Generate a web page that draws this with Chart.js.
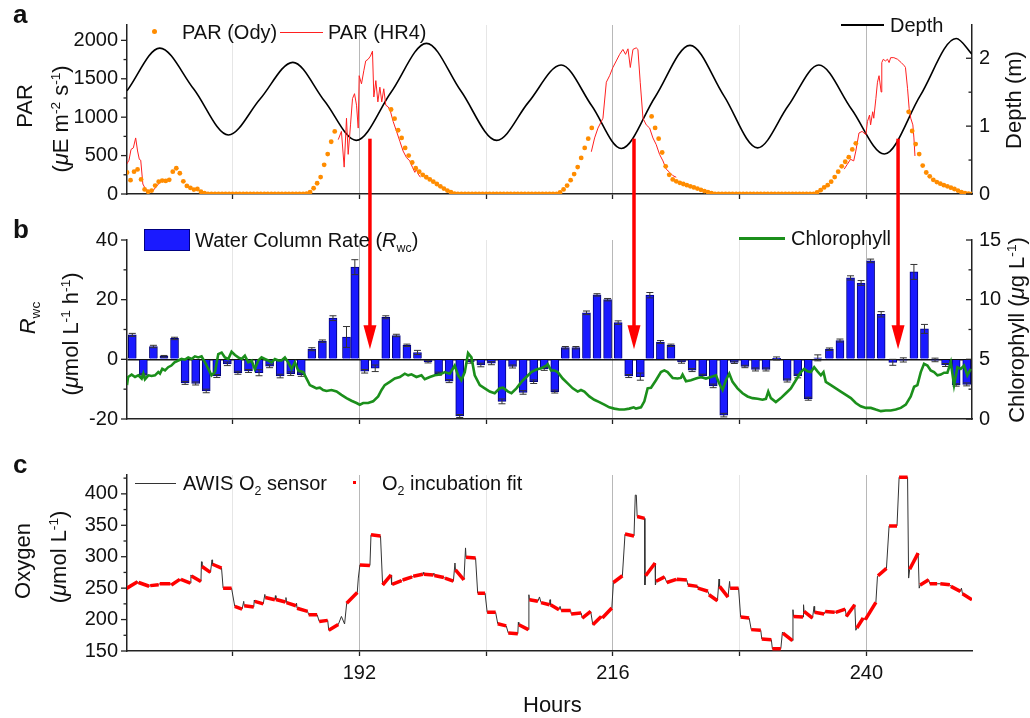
<!DOCTYPE html>
<html>
<head>
<meta charset="utf-8">
<script src="https://cdn.jsdelivr.net/npm/chart.js@4.4.1/dist/chart.umd.min.js"></script>
<style>
  body { margin: 0; background: #fff; }
  #wrap { position: relative; width: 1030px; height: 718px; font-family: "Liberation Sans", Arial, sans-serif; color: #111; overflow: hidden; }
  canvas { position: absolute; left: 0; }
  .t { position: absolute; white-space: nowrap; font-size: 20px; line-height: 1; transform: translateY(-50%); }
  .rot { position: absolute; white-space: nowrap; font-size: 22px; line-height: 1; transform: translate(-50%, -50%) rotate(-90deg); }
  .lab { position: absolute; font-weight: bold; font-size: 26px; line-height: 1; }
  sup, sub { font-size: 62%; line-height: 0; }
  .sw { position: absolute; }
</style>
</head>
<body>
<div id="wrap">
  <canvas id="cA" width="1030" height="215" style="top:0"></canvas>
  <canvas id="cB" width="1030" height="225" style="top:215px"></canvas>
  <canvas id="cC" width="1030" height="278" style="top:440px"></canvas>
  <canvas id="ov" width="1030" height="718" style="top:0"></canvas>

  <div class="lab" style="left:13px;top:1px">a</div>
  <div class="lab" style="left:13px;top:216px">b</div>
  <div class="lab" style="left:13px;top:451px">c</div>

  <div class="rot" style="left:25px;top:106px">PAR</div>
  <div class="rot" style="left:61px;top:119px">(<i>μ</i>E m<sup>-2</sup> s<sup>-1</sup>)</div>
  <div class="rot" style="left:1014px;top:100px">Depth (m)</div>
  <div class="rot" style="left:28px;top:318px"><i>R</i><sub>wc</sub></div>
  <div class="rot" style="left:71px;top:334px">(<i>μ</i>mol L<sup>-1</sup> h<sup>-1</sup>)</div>
  <div class="rot" style="left:1017px;top:330px">Chlorophyll (<i>μ</i>g L<sup>-1</sup>)</div>
  <div class="rot" style="left:23px;top:561px">Oxygen</div>
  <div class="rot" style="left:59px;top:557px">(<i>μ</i>mol L<sup>-1</sup>)</div>
  <div class="t" style="left:523px;top:705px;font-size:22px">Hours</div>

  <!-- legends -->
  <div class="sw" style="left:152px;top:29px;width:5px;height:5px;border-radius:50%;background:#ff8c00"></div>
  <div class="t" style="left:182px;top:32px">PAR (Ody)</div>
  <div class="sw" style="left:280px;top:32px;width:43px;height:1px;background:#ff2020"></div>
  <div class="t" style="left:328px;top:32px">PAR (HR4)</div>
  <div class="sw" style="left:841px;top:24px;width:43px;height:1.5px;background:#000"></div>
  <div class="t" style="left:890px;top:25px">Depth</div>

  <div class="sw" style="left:144px;top:229px;width:44px;height:20px;background:#1a1aff;border:1px solid #000080"></div>
  <div class="t" style="left:195px;top:240px">Water Column Rate (<i>R</i><sub>wc</sub>)</div>
  <div class="sw" style="left:739px;top:237px;width:46px;height:3px;background:#1b8f1b"></div>
  <div class="t" style="left:791px;top:238px">Chlorophyll</div>

  <div class="sw" style="left:135px;top:483px;width:41px;height:1px;background:#333"></div>
  <div class="t" style="left:183px;top:483px">AWIS O<sub>2</sub> sensor</div>
  <div class="sw" style="left:353px;top:481px;width:3px;height:3px;background:#ff0000"></div>
  <div class="t" style="left:382px;top:483px">O<sub>2</sub> incubation fit</div>
</div>

<script>
// ---- shared x axis (hours) ----
const xMin = 170, xMax = 250;
const xTickHours = [180, 192, 204, 216, 228, 240];
const xLabelHours = [192, 216, 240];
const xMajorLines = [192, 216, 240];

// ---- axis ticks ----
const parMajor = [0, 500, 1000, 1500, 2000], parMinor = [250, 750, 1250, 1750];
const depthMajor = [0, 1, 2], depthMinor = [0.5, 1.5];
const rwcMajor = [-20, 0, 20, 40], rwcMinor = [-10, 10, 30];
const chlMajor = [0, 5, 10, 15], chlMinor = [2.5, 7.5, 12.5];
const o2Major = [150, 200, 250, 300, 350, 400], o2Minor = [175, 225, 275, 325, 375, 425];

// ---- panel a: PAR (Ody), one reading every 20 min from hour 170 ----
const odyStart = 170, odyStep = 1 / 3;
const parOdy = [
  280, 180, 290, 320, 190, 60, 30, 45, 110, 160, 175, 170, 185, 290, 335, 270, 165, 105, 80, 58, 65, 30, 10,
  0, 0, 0, 0, 0, 0, 0, 0, 0, 0, 0, 0, 0, 0, 0, 0, 0, 0, 0, 0, 0, 0, 0, 0, 0, 0, 0, 0,
  5, 25, 75, 140, 220, 380, 520, 680, 815,
  null, null, null, null, null, null, null, null, null, null, null, null, null, null, null,
  1100, 980, 830, 730, 600, 500, 410, 335, 290, 250, 218, 190, 160, 130, 100, 70, 45, 25, 5,
  0, 0, 0, 0, 0, 0, 0, 0, 0, 0, 0, 0, 0, 0, 0, 0, 0, 0, 0, 0, 0, 0, 0, 0, 0, 0, 0, 0, 0,
  20, 60, 110, 180, 260, 350, 470, 600, 720, 860,
  null, null, null, null, null, null, null, null, null, null, null, null, null, null, null, null,
  1010, 860, 720, 540, 360, 250, 190, 165, 145, 130, 115, 100, 85, 70, 55, 38, 25, 10,
  0, 0, 0, 0, 0, 0, 0, 0, 0, 0, 0, 0, 0, 0, 0, 0, 0, 0, 0, 0, 0, 0, 0, 0, 0, 0, 0, 0, 0,
  20, 50, 85, 115, 160, 220, 290, 360, 420, 480, 580, 660,
  null, null, null, null, null, null, null, null, null, null, null, null, null, null,
  1070, 820, 650, 520, 370, 280, 230, 185, 155, 135, 115, 100, 82, 65, 45, 25, 12, 4, 0
];

// PAR (HR4) [hour, value]; [h, null] breaks the line
const hr4 = [
  [169.97, 388], [170.19, 440], [170.38, 580], [170.6, 600], [170.82, 730], [171.0, 560], [171.17, 450], [171.3, 440],
  [171.5, 130], [171.75, 65], [172.08, 38], [172.5, 50], [172.8, 100], [173.1, 150], [173.4, 175], [173.75, 180], [174.06, 200],
  [180, null],
  [190.0, 708], [190.3, 815], [190.56, 350], [190.78, 986], [190.94, 516], [191.16, 900], [191.35, 1242], [191.54, 1306],
  [191.73, 1156], [191.89, 858], [191.98, 1540], [192.2, 1434], [192.42, 1604], [192.6, 1732], [192.83, 1754], [193.05, 1796],
  [193.24, 1860], [193.37, 1263], [193.56, 1476], [193.75, 1199], [193.94, 1391], [194.12, 1199], [194.31, 1370], [194.5, 1156],
  [194.72, 1135], [194.95, 1071], [195.2, 943], [195.52, 815], [195.83, 687], [196.14, 559], [196.46, 474], [196.77, 431],
  [197.03, 346], [197.25, 282], [197.4, 324], [197.56, 260], [197.78, 218],
  [205, null],
  [213.96, 550], [214.27, 730], [214.59, 858], [215.06, 986], [215.38, 1455], [215.69, 1540], [216.0, 1647], [216.32, 1732],
  [216.64, 1818], [216.95, 1882], [217.2, 1818], [217.43, 1890], [217.65, 1647], [217.9, 1882], [218.21, 1903], [218.37, 1882],
  [218.59, 1455], [218.85, 986], [219.16, 900], [219.48, 858], [219.79, 730], [220.1, 644], [220.42, 516], [220.74, 431],
  [221.05, 324], [221.37, 282], [221.68, 239], [222.0, 218],
  [230, null],
  [237.9, 324], [238.2, 388], [238.5, 452], [238.8, 431], [239.0, 559], [239.3, 794], [239.6, 815], [239.95, 772],
  [240.1, 943], [240.3, 1028], [240.4, 900], [240.6, 1071], [240.7, 986], [240.9, 1242], [241.05, 1455], [241.2, 1540],
  [241.4, 1327], [241.46, 1711], [241.6, 1754], [241.8, 1732], [242.0, 1754], [242.15, 1711], [242.3, 1775], [242.6, 1775],
  [242.95, 1754], [243.3, 1711], [243.6, 1668], [243.7, 1647], [243.9, 1370], [244.05, 1114], [244.2, 986], [244.4, 900],
  [244.5, 730], [244.6, 495]
];

// Depth [hour, m]
const depth = [
  [170.0, 1.52], [173.1, 2.15], [176.3, 1.55], [179.6, 0.87], [182.6, 1.40], [185.7, 1.94], [188.7, 1.37], [191.7, 0.79],
  [195.0, 1.50], [198.35, 2.22], [201.6, 1.52], [205.0, 0.79], [208.0, 1.35], [211.1, 1.90], [214.0, 1.30], [216.8, 0.67],
  [220.0, 1.43], [223.3, 2.19], [226.5, 1.45], [229.7, 0.68], [232.6, 1.30], [235.5, 1.90], [238.6, 1.25], [241.7, 0.59],
  [245.1, 1.45], [248.5, 2.29], [250.0, 2.06]
];

// ---- panel b: water column rate bars ----
const barHours = [
  170.5, 171.55, 172.5, 173.5, 174.5, 175.5, 176.5, 177.5, 178.5, 179.5,
  180.5, 181.5, 182.5, 183.5, 184.5, 185.5, 186.5, 187.5, 188.5, 189.5,
  190.78, 191.57,
  192.5, 193.5, 194.5, 195.5, 196.5, 197.5, 198.5, 199.5, 200.5, 201.5,
  202.5, 203.5, 204.5, 205.5, 206.5, 207.5, 208.5, 209.5, 210.5, 211.5,
  212.5, 213.5, 214.5, 215.5, 216.5, 217.5,
  218.6,
  219.5, 220.5, 221.5, 222.5, 223.5, 224.5, 225.5, 226.5, 227.5, 228.5, 229.5, 230.5, 231.5, 232.5, 233.5, 234.5,
  235.4,
  236.5, 237.5, 238.5, 239.5,
  240.4, 241.4,
  242.5, 243.5, 244.5, 245.5, 246.5, 247.5, 248.5, 249.5
];
const barValues = [
  8.2, -5.4, 4.3, 1.0, 7.0, -7.9, -8.1, -10.6, -5.6, -1.5,
  -4.5, -3.9, -4.5, -2.3, -5.6, -4.8, -5.1, 3.4, 6.1, 13.8,
  7.5, 30.9,
  -4.0, -3.0, 14.1, 8.0, 4.7, 2.3, -0.8, -4.8, -7.3, -19.0,
  -0.8, -1.9, -1.3, -14.1, -2.4, -11.1, -7.5, -3.2, -10.8, 3.9,
  3.9, 15.6, 21.6, 20.0, 12.3, -5.6,
  -5.8,
  21.5, 5.8, 4.7, -0.9, -3.6, -5.6, -8.9, -18.7, -1.0, -2.4, -3.4, -3.4, 0.3, -7.1, -5.6, -13.2,
  0.5,
  3.4, 6.3, 27.3, 25.6,
  33.0, 15.1,
  -1.0, -0.2, 29.3, 10.2, -0.2, -1.9, -8.6, -8.4
];
const barErrors = [
  0.5, 0.5, 0.4, 0.3, 0.4, 0.5, 0.5, 0.6, 0.5, 0.6,
  0.5, 0.5, 1.0, 0.5, 0.6, 0.6, 0.6, 0.5, 0.4, 0.8,
  3.5, 2.5,
  0.6, 1.1, 0.5, 0.4, 0.4, 0.7, 0.4, 0.5, 0.5, 0.5,
  0.5, 0.6, 0.5, 0.8, 0.5, 0.6, 0.6, 0.5, 0.5, 0.4,
  0.4, 0.6, 0.4, 0.4, 0.6, 0.5,
  1.2,
  0.9, 0.5, 0.4, 0.4, 0.5, 0.6, 0.6, 0.6, 0.4, 0.4, 0.5, 0.5, 0.5, 0.5, 0.6, 0.5,
  1.0,
  0.4, 0.5, 0.7, 0.8,
  0.6, 0.9,
  1.0, 0.7, 2.5, 1.5, 0.6, 0.5, 0.4, 0.5
];

// Chlorophyll [hour, ug/L]
const chl = [
  [170.0, 2.84], [170.1, 3.52], [170.44, 3.72], [170.76, 3.52], [171.07, 3.66], [171.39, 3.39], [171.55, 3.8], [171.7, 3.33],
  [172.02, 3.66], [172.33, 3.6], [172.65, 3.66], [172.96, 3.93], [173.12, 3.8], [173.34, 4.2], [173.6, 4.07], [173.9, 4.34],
  [174.2, 4.48], [174.5, 4.75], [174.86, 4.9], [175.17, 5.03], [175.49, 4.97], [175.8, 5.16], [176.12, 5.03], [176.43, 5.25],
  [176.75, 5.16], [177.06, 5.25], [177.38, 4.75], [177.7, 4.2], [178.0, 3.66], [178.33, 3.93], [178.64, 5.44], [178.96, 5.57],
  [179.27, 5.16], [179.59, 5.03], [179.9, 5.63], [180.22, 5.36], [180.53, 5.16], [180.85, 5.03], [181.16, 5.3], [181.48, 4.75],
  [181.8, 4.9], [182.1, 4.2], [182.43, 4.9], [182.74, 5.16], [183.05, 5.03], [183.37, 4.9], [183.69, 4.75], [184.0, 5.03],
  [184.32, 4.9], [184.63, 4.9], [184.95, 5.16], [185.26, 4.75], [185.58, 4.2], [185.9, 4.75], [186.21, 4.07], [186.68, 3.93],
  [187.0, 3.39], [187.31, 2.84], [187.63, 2.7], [187.94, 2.57], [188.26, 2.62], [188.57, 2.43], [188.89, 2.35], [189.36, 2.43],
  [189.84, 2.3], [190.3, 2.02], [190.78, 1.75], [191.25, 1.53], [191.73, 1.34], [192.04, 1.2], [192.36, 1.34], [192.83, 1.34],
  [193.3, 1.48], [193.78, 1.89], [194.1, 2.43], [194.4, 2.84], [194.88, 3.11], [195.35, 3.39], [195.83, 3.52], [196.3, 3.8],
  [196.62, 3.66], [196.93, 3.74], [197.4, 3.52], [197.88, 3.66], [198.19, 3.33], [198.67, 3.52], [199.14, 3.66], [199.61, 3.72],
  [200.09, 3.93], [200.56, 3.8], [201.03, 4.48], [201.35, 3.66], [201.66, 3.25], [201.98, 3.93], [202.29, 5.52], [202.61, 5.16],
  [202.92, 3.66], [203.4, 2.84], [203.87, 2.57], [204.34, 2.3], [204.81, 2.16], [205.29, 2.57], [205.6, 2.62], [206.08, 2.3],
  [206.4, 2.16], [206.87, 2.57], [207.34, 3.11], [207.81, 3.52], [208.28, 3.93], [208.76, 4.15], [209.23, 4.26], [209.7, 4.48],
  [209.83, 4.6], [210.15, 4.07], [210.46, 4.07], [210.78, 3.93], [211.25, 3.39], [211.72, 2.98], [212.2, 2.57], [212.67, 2.3],
  [212.98, 2.43], [213.3, 2.3], [213.77, 1.89], [214.24, 1.61], [214.72, 1.42], [215.19, 1.2], [215.66, 0.98], [216.14, 0.87],
  [216.61, 0.79], [217.08, 0.79], [217.56, 0.87], [217.97, 0.98], [218.19, 0.87], [218.66, 0.98], [218.98, 1.48], [219.29, 2.57],
  [219.61, 2.62], [220.08, 3.25], [220.55, 3.93], [220.87, 4.07], [221.18, 3.93], [221.66, 3.44], [222.13, 3.39], [222.44, 3.44],
  [222.6, 3.72], [222.92, 3.17], [223.39, 3.25], [223.86, 3.39], [224.34, 3.52], [224.81, 3.39], [225.28, 3.52], [225.76, 3.66],
  [226.07, 2.98], [226.39, 2.43], [226.7, 3.25], [227.02, 3.8], [227.33, 3.11], [227.8, 2.57], [228.28, 2.16], [228.75, 1.89],
  [229.22, 1.75], [229.7, 1.69], [230.17, 1.61], [230.49, 1.69], [230.71, 2.3], [230.96, 1.75], [231.43, 1.42], [231.9, 1.75],
  [232.38, 2.16], [232.85, 2.57], [233.32, 3.25], [233.8, 3.93], [234.11, 4.2], [234.43, 3.99], [234.74, 3.93], [235.06, 4.34],
  [235.37, 3.99], [235.69, 3.66], [235.94, 3.93], [236.16, 3.11], [236.64, 2.84], [237.11, 2.57], [237.58, 2.3], [238.06, 2.02],
  [238.53, 1.75], [239.0, 1.34], [239.47, 1.07], [239.95, 0.93], [240.42, 0.93], [240.89, 0.79], [241.37, 0.66], [241.84, 0.71],
  [242.31, 0.71], [242.78, 0.79], [243.26, 0.93], [243.73, 1.2], [244.2, 1.89], [244.52, 2.7], [244.83, 2.84], [245.15, 3.93],
  [245.46, 4.62], [245.78, 4.48], [246.09, 4.07], [246.41, 3.93], [246.73, 3.66], [247.04, 3.72], [247.36, 3.88], [247.67, 3.88],
  [247.99, 4.75], [248.3, 2.84], [248.62, 4.34], [248.93, 4.2], [249.25, 4.48], [249.56, 3.66], [249.88, 4.2]
];

// ---- panel c: oxygen ----
// incubation fits: [startHour, startO2, endHour, endO2]
const fitSegments = [
  [169.9, 249, 171.0, 260], [171.1, 259, 172.1, 253], [172.2, 254, 173.0, 255.5], [173.1, 257, 174.1, 257],
  [174.2, 255, 175.0, 264], [175.1, 264, 176.0, 258], [176.1, 269.5, 177.0, 260.5], [177.1, 284.5, 177.9, 275],
  [178.1, 288, 178.95, 282], [179.1, 250, 179.9, 250], [180.2, 221, 180.9, 216.7], [181.1, 222, 182.0, 220],
  [182.1, 229, 182.9, 225], [183.1, 235, 184.0, 231.6], [184.1, 232, 185.0, 228], [185.1, 227, 186.0, 222],
  [186.1, 218, 187.1, 213], [187.2, 207.7, 188.0, 207.7], [188.2, 197, 189.0, 198.7], [189.1, 183, 190.0, 192],
  [190.8, 226, 191.8, 243], [192.05, 287, 193.0, 286], [193.1, 335, 194.0, 333], [194.2, 255, 195.0, 271],
  [195.1, 256, 196.0, 262], [196.1, 263, 197.0, 268], [197.1, 269, 198.0, 272], [198.1, 272, 199.0, 271],
  [199.1, 270, 200.0, 267], [200.1, 266, 200.9, 261], [201.1, 279, 201.9, 263], [202.1, 299, 203.0, 298],
  [203.2, 242, 203.9, 242], [204.1, 211.5, 204.9, 211.5], [205.1, 193.4, 205.9, 190], [206.1, 178.6, 207.0, 177.5],
  [207.1, 191.8, 208.0, 184], [208.1, 231.6, 208.9, 229], [209.2, 227, 210.0, 223.6], [210.1, 223.6, 210.9, 215.7],
  [211.1, 214.6, 212.0, 214.6], [212.05, 209, 213.0, 210.4], [213.1, 202.4, 213.9, 213], [214.1, 191.8, 214.9, 205],
  [215.0, 202.4, 215.9, 218.3], [216.05, 259, 216.9, 269.7], [217.15, 336, 218.0, 333], [218.3, 364, 219.0, 361],
  [219.1, 269.7, 220.0, 289.9], [220.1, 261, 220.9, 268], [221.1, 259, 222.0, 264], [222.05, 264, 223.0, 263],
  [223.1, 255, 224.0, 252.8], [224.05, 250, 225.0, 245], [225.1, 239.5, 225.9, 230], [226.1, 252.8, 226.9, 235.8],
  [227.1, 250, 227.9, 250], [228.1, 204, 228.9, 202.4], [229.1, 184, 230.0, 183], [230.1, 169, 231.0, 168],
  [231.1, 153.7, 231.9, 153.7], [232.1, 178.6, 233.0, 166.4], [233.1, 205, 234.0, 204], [234.1, 213, 234.9, 202.4],
  [235.1, 211.5, 236.0, 208.8], [236.1, 213, 237.0, 211.5], [237.1, 211.5, 238.0, 216.7], [238.1, 205, 238.9, 223.6],
  [239.1, 186.6, 239.7, 202.4], [239.9, 199.8, 240.9, 227.3], [241.1, 269.7, 241.9, 281.4], [242.15, 349, 242.9, 349],
  [243.1, 426.5, 243.9, 426.5], [244.1, 280, 244.9, 305.8], [245.1, 255, 245.9, 263.4], [246.0, 257, 246.7, 257],
  [247.0, 257, 247.9, 255.4], [248.0, 252.8, 248.9, 244.8], [249.1, 241, 250.0, 231.6]
];
// sensor excursions between incubations [hour, O2]
const sensorSpikes = [
  [176.05, 271], [177.05, 292], [178.05, 295], [181.05, 229], [182.05, 231], [183.05, 240], [184.05, 238], [185.05, 235],
  [186.05, 226], [190.3, 205], [190.6, 193], [191.9, 266], [195.05, 256], [198.05, 275], [199.05, 274], [201.05, 290],
  [202.05, 314], [207.05, 195.6], [208.05, 239.5], [209.05, 236], [210.05, 231.6], [211.0, 221], [218.12, 398], [218.22, 398],
  [219.03, 255], [220.03, 255], [226.05, 264.4], [227.05, 260.7], [232.05, 179.7], [233.05, 215.7], [234.05, 223.6],
  [235.05, 221], [239.0, 183], [241.05, 268.7], [244.0, 266], [245.0, 250], [249.0, 250]
];

// red arrows (hour, from PAR level in a down to R_wc level in b)
const arrowHours = [193.0, 218.0, 243.0];
const arrowTopPar = 720, arrowTipRwc = 3.4;

// ---------------------------------------------------------------
const fontFamily = '"Liberation Sans", Arial, sans-serif';
const tickFont = { family: fontFamily, size: 20 };

function xAxis(height, showLabels) {
  return {
    type: 'linear', min: xMin, max: xMax, offset: false,
    afterBuildTicks: s => { s.ticks = xTickHours.map(v => ({ value: v })); },
    afterFit: s => { s.height = height; },
    ticks: {
      autoSkip: false, maxRotation: 0, padding: 5, color: '#111', font: tickFont,
      callback: v => (showLabels && xLabelHours.includes(v)) ? String(v) : ''
    },
    grid: {
      offset: false, lineWidth: 1, drawTicks: true, tickLength: 5, tickColor: '#222', tickWidth: 1.3,
      color: c => (c.tick && xMajorLines.includes(c.tick.value)) ? '#b8b8b8' : '#e6e6e6'
    },
    border: { display: true, color: '#222', width: 1.5 }
  };
}

function yAxis(pos, min, max, major, width, grid) {
  return {
    type: 'linear', position: pos, min: min, max: max,
    afterBuildTicks: s => { s.ticks = major.map(v => ({ value: v })); },
    afterFit: s => { s.width = width; },
    ticks: {
      autoSkip: false, padding: pos === 'left' ? 9 : 7, color: '#111', font: tickFont,
      callback: v => String(v)
    },
    grid: grid || { display: false, drawTicks: false },
    border: { display: true, color: '#222', width: 1.5 }
  };
}

// y tick marks: left axes point out, right axes point in (both leftwards)
function tickMarks(axes) {
  return {
    id: 'tickMarks',
    afterDraw(chart) {
      const ctx = chart.ctx;
      ctx.save();
      ctx.strokeStyle = '#222';
      ctx.lineWidth = 1.3;
      axes.forEach(a => {
        const s = chart.scales[a.id];
        const x0 = a.side === 'left' ? chart.chartArea.left : chart.chartArea.right;
        const mark = (v, len) => {
          const y = s.getPixelForValue(v);
          ctx.beginPath(); ctx.moveTo(x0, y); ctx.lineTo(x0 - len, y); ctx.stroke();
        };
        a.major.forEach(v => mark(v, 6));
        a.minor.forEach(v => mark(v, 3.5));
      });
      ctx.restore();
    }
  };
}

const errorBars = {
  id: 'errorBars',
  afterDatasetDraw(chart, args) {
    if (chart.data.datasets[args.index].type !== 'bar') return;
    const xs = chart.scales.x, ys = chart.scales.y, ctx = chart.ctx;
    ctx.save();
    ctx.strokeStyle = '#333';
    ctx.lineWidth = 1;
    barHours.forEach((h, i) => {
      const x = xs.getPixelForValue(h);
      const y1 = ys.getPixelForValue(barValues[i] - barErrors[i]);
      const y2 = ys.getPixelForValue(barValues[i] + barErrors[i]);
      ctx.beginPath();
      ctx.moveTo(x, y1); ctx.lineTo(x, y2);
      ctx.moveTo(x - 3.5, y1); ctx.lineTo(x + 3.5, y1);
      ctx.moveTo(x - 3.5, y2); ctx.lineTo(x + 3.5, y2);
      ctx.stroke();
    });
    ctx.restore();
  }
};

const quiet = { legend: { display: false }, tooltip: { enabled: false } };

// ---- panel a ----
const chartA = new Chart(document.getElementById('cA'), {
  type: 'line',
  data: {
    datasets: [
      {
        label: 'PAR (Ody)', yAxisID: 'y', order: 0, showLine: false,
        data: parOdy.map((v, i) => ({ x: odyStart + i * odyStep, y: v })),
        pointRadius: 2.4, pointBackgroundColor: '#ff8c00', pointBorderWidth: 0
      },
      {
        label: 'PAR (HR4)', yAxisID: 'y', order: 1, spanGaps: false,
        data: hr4.map(p => ({ x: p[0], y: p[1] })),
        borderColor: '#ff2020', borderWidth: 1, pointRadius: 0
      },
      {
        label: 'Depth', yAxisID: 'y2', order: 2,
        data: depth.map(p => ({ x: p[0], y: p[1] })),
        borderColor: '#000', borderWidth: 1.6, pointRadius: 0, cubicInterpolationMode: 'monotone'
      }
    ]
  },
  options: {
    responsive: false, animation: false, events: [],
    layout: { padding: { top: 25, left: 0, right: 0, bottom: 0 } },
    plugins: quiet,
    scales: {
      x: xAxis(18, false),
      y: yAxis('left', 0, 2200, parMajor, 127),
      y2: yAxis('right', 0, 2.49, depthMajor, 58)
    }
  },
  plugins: [tickMarks([
    { id: 'y', side: 'left', major: parMajor, minor: parMinor },
    { id: 'y2', side: 'right', major: depthMajor, minor: depthMinor }
  ])]
});

// ---- panel b ----
const chartB = new Chart(document.getElementById('cB'), {
  type: 'bar',
  data: {
    datasets: [
      {
        type: 'line', label: 'Chlorophyll', yAxisID: 'y2', order: 0,
        data: chl.map(p => ({ x: p[0], y: p[1] })),
        borderColor: '#1b8f1b', borderWidth: 2.6, pointRadius: 0
      },
      {
        type: 'bar', label: 'Water Column Rate', yAxisID: 'y', order: 1,
        data: barHours.map((h, i) => ({ x: h, y: barValues[i] })),
        backgroundColor: '#1a1aff', borderColor: '#000080', borderWidth: 1,
        barThickness: 8, grouped: false
      }
    ]
  },
  options: {
    responsive: false, animation: false, events: [],
    layout: { padding: { top: 25, left: 0, right: 0, bottom: 0 } },
    plugins: quiet,
    scales: {
      x: xAxis(17, false),
      y: yAxis('left', -20, 40, rwcMajor, 127, {
        display: true, drawTicks: false, lineWidth: 1.5,
        color: c => (c.tick && c.tick.value === 0) ? '#111' : 'rgba(0,0,0,0)'
      }),
      y2: yAxis('right', 0, 15, chlMajor, 58)
    }
  },
  plugins: [errorBars, tickMarks([
    { id: 'y', side: 'left', major: rwcMajor, minor: rwcMinor },
    { id: 'y2', side: 'right', major: chlMajor, minor: chlMinor }
  ])]
});

// ---- panel c ----
const sensorPts = [];
fitSegments.forEach(s => { sensorPts.push([s[0], s[1]], [s[2], s[3]]); });
sensorSpikes.forEach(p => sensorPts.push(p));
sensorPts.sort((a, b) => a[0] - b[0]);

const fitPts = [];
fitSegments.forEach(s => {
  fitPts.push({ x: s[0], y: s[1] }, { x: s[2], y: s[3] }, { x: s[2] + 0.01, y: null });
});

const chartC = new Chart(document.getElementById('cC'), {
  type: 'line',
  data: {
    datasets: [
      {
        label: 'O2 incubation fit', order: 0, spanGaps: false,
        data: fitPts, borderColor: '#ff0000', borderWidth: 3.5, borderCapStyle: 'butt', pointRadius: 0
      },
      {
        label: 'AWIS O2 sensor', order: 1,
        data: sensorPts.map(p => ({ x: p[0], y: p[1] })),
        borderColor: '#333', borderWidth: 1, pointRadius: 0
      }
    ]
  },
  options: {
    responsive: false, animation: false, events: [],
    layout: { padding: { top: 35, left: 0, right: 58, bottom: 0 } },
    plugins: quiet,
    scales: {
      x: xAxis(67, true),
      y: yAxis('left', 150, 430, o2Major, 127)
    }
  },
  plugins: [tickMarks([{ id: 'y', side: 'left', major: o2Major, minor: o2Minor }])]
});

// ---- arrows across panels a and b ----
const ov = document.getElementById('ov').getContext('2d');
ov.fillStyle = '#ff0000';
ov.strokeStyle = '#ff0000';
arrowHours.forEach(h => {
  const x = chartA.scales.x.getPixelForValue(h);
  const yTop = chartA.scales.y.getPixelForValue(arrowTopPar);
  const yTip = 215 + chartB.scales.y.getPixelForValue(arrowTipRwc);
  ov.lineWidth = 3.5;
  ov.beginPath(); ov.moveTo(x, yTop); ov.lineTo(x, yTip - 20); ov.stroke();
  ov.beginPath(); ov.moveTo(x - 6.5, yTip - 24); ov.lineTo(x + 6.5, yTip - 24); ov.lineTo(x, yTip); ov.closePath(); ov.fill();
});
</script>
</body>
</html>
